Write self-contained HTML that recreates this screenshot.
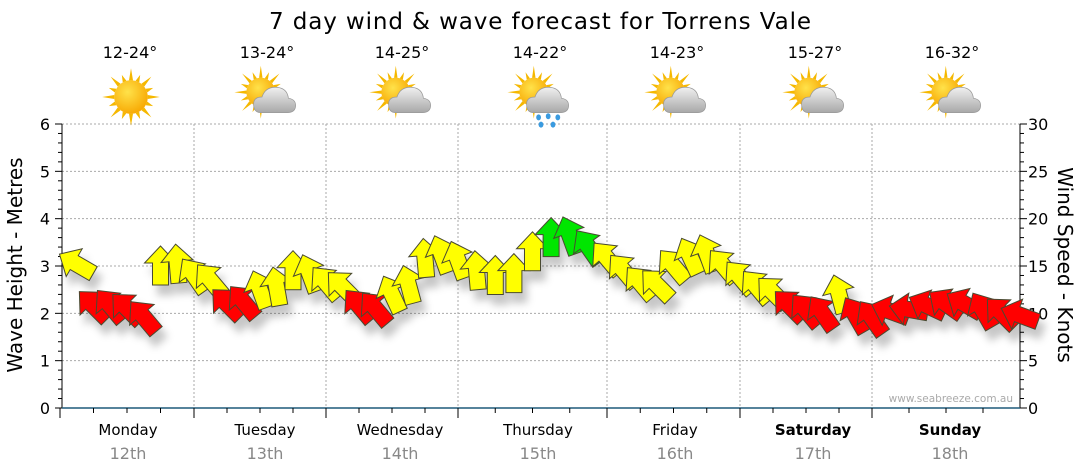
<!DOCTYPE html>
<html><head><meta charset="utf-8"><style>
body{margin:0;background:#fff;}
svg{display:block;font-family:"DejaVu Sans","Liberation Sans",sans-serif;}
</style></head><body>
<svg id="chart" width="1080" height="475" viewBox="0 0 1080 475" xmlns="http://www.w3.org/2000/svg">
<defs>
<filter id="sh" x="-50%" y="-50%" width="200%" height="200%"><feDropShadow dx="5" dy="10" stdDeviation="4" flood-color="#000" flood-opacity="0.22"/></filter>
<radialGradient id="sun" cx="0.4" cy="0.35" r="0.7"><stop offset="0" stop-color="#ffe24a"/><stop offset="1" stop-color="#f7a600"/></radialGradient>
<linearGradient id="cld" x1="0" y1="0" x2="0" y2="1"><stop offset="0" stop-color="#f0f0f0"/><stop offset="1" stop-color="#a8a8a8"/></linearGradient>
</defs>
<text x="540" y="29" text-anchor="middle" font-size="23" fill="#000" textLength="542">7 day wind &amp; wave forecast for Torrens Vale</text>
<g id="grid"></g>
<g id="axes"></g>
<g id="icons"></g>
<g id="arrows" filter="url(#sh)"></g>
<text transform="translate(22,265) rotate(-90)" text-anchor="middle" font-size="20" fill="#000">Wave Height - Metres</text>
<text transform="translate(1058,265) rotate(90)" text-anchor="middle" font-size="20" fill="#000">Wind Speed - Knots</text>
<text x="1013" y="402" text-anchor="end" font-size="10.5" fill="#aaa">www.seabreeze.com.au</text>
</svg>
<script>
const days = ["Monday","Tuesday","Wednesday","Thursday","Friday","Saturday","Sunday"];
const dates = ["12th","13th","14th","15th","16th","17th","18th"];
const temps = ["12-24°","13-24°","14-25°","14-22°","14-23°","15-27°","16-32°"];
const weather = ["sun","cloud","cloud","rain","cloud","cloud","cloud"];
const hours = [3,6,9,12,15,18,21,24,27,30,33,36,39,42,45,48,51,54,57,60,63,66,69,72,75,78,81,84,87,90,93,96,99,102,105,108,111,114,117,120,123,126,129,132,135,138,141,144,147,150,153,156,159,162,165,168];
const windKnots = [15.2,10.8,10.8,10.5,9.6,15.0,15.2,14.0,13.5,11.0,11.2,12.5,12.8,14.5,14.2,13.2,12.8,10.8,10.5,12.0,13.0,15.8,16.2,15.6,14.5,14.0,14.2,16.5,18.0,18.2,17.0,15.8,14.5,13.2,13.0,15.0,16.0,16.3,15.0,13.8,12.8,12.2,10.8,10.3,10.0,12.0,9.8,9.5,10.2,10.4,10.8,11.0,11.0,10.3,10.0,9.8];
const windDir = [-60,-45,-40,-45,-40,0,-5,-35,-40,-45,-40,-20,-10,0,-20,-40,-45,-40,-40,-25,-15,-5,-20,-20,-5,0,0,0,0,-20,-35,-40,-40,-40,-45,-40,-25,-20,-40,-40,-40,-45,-45,-40,-35,-15,-30,-35,-70,-80,-65,-55,-60,-30,-45,-70];
const windCat = ["Y","R","R","R","R","Y","Y","Y","Y","R","R","Y","Y","Y","Y","Y","Y","R","R","Y","Y","Y","Y","Y","Y","Y","Y","Y","G","G","G","Y","Y","Y","Y","Y","Y","Y","Y","Y","Y","Y","R","R","R","Y","R","R","R","R","R","R","R","R","R","R"];
const waveTicks = [0,1,2,3,4,5,6];
const knotTicks = [0,5,10,15,20,25,30];

const NS="http://www.w3.org/2000/svg";
const bounds=[60,194,326,458,607,740,872,1020];
const labelX=[128,265,400,538,675,813,950];
const X0=62, X1=1020, Y0=408, Y1=124;
const yM = m => Y0 - (m/6)*(Y0-Y1);
const yK = k => Y0 - (k/30)*(Y0-Y1);
const xT = t => {let d=Math.min(6,Math.floor(t/24)); if(t>=168)d=6; const f=(t-d*24)/24; return bounds[d]+f*(bounds[d+1]-bounds[d]);};
function mk(tag,attrs,parent,txt){const e=document.createElementNS(NS,tag);for(const k in attrs)e.setAttribute(k,attrs[k]);if(txt!=null)e.textContent=txt;parent.appendChild(e);return e;}
const grid=document.getElementById('grid'), axes=document.getElementById('axes'), icons=document.getElementById('icons'), arrows=document.getElementById('arrows');

waveTicks.forEach(v=>{
  if(v>0){const g=mk('line',{x1:X0,x2:X1,y1:yM(v),y2:yM(v),stroke:'#aaa','stroke-dasharray':'2,2'},grid);
  
  }
  const t=mk('text',{x:50,y:yM(v)+6,'text-anchor':'end','font-size':16,fill:'#000'},axes,String(v));
  
  
});
for(let i=0;i<=30;i++){const v=i*0.2;mk('line',{x1:X0-(i%5==0?7:4),x2:X0,y1:yM(v),y2:yM(v),stroke:'#000'},axes);}
knotTicks.forEach(v=>{
  const t=mk('text',{x:1028,y:yK(v)+6,'font-size':16,fill:'#000'},axes,String(v));
  
  
});
for(let i=0;i<=30;i++){mk('line',{x1:X1,x2:X1+(i%5==0?7:4),y1:yK(i),y2:yK(i),stroke:'#000'},axes);}
mk('line',{x1:X0,x2:X0,y1:Y1,y2:Y0,stroke:'#000'},axes);
mk('line',{x1:X1,x2:X1,y1:Y1,y2:Y0,stroke:'#000'},axes);
mk('line',{x1:X0,x2:X1,y1:Y0,y2:Y0,stroke:'#1f5a7a','stroke-width':1.5},axes);
for(let d=0;d<7;d++){
  for(let q=0;q<4;q++){const x=bounds[d]+q*(bounds[d+1]-bounds[d])/4;mk('line',{x1:x,x2:x,y1:Y0,y2:Y0+(q==0?10:5),stroke:'#000'},axes);}
  if(d>0){const g=mk('line',{x1:bounds[d],x2:bounds[d],y1:Y1,y2:Y0,stroke:'#aaa','stroke-dasharray':'2,2'},grid);
  
  }
  const bold=d>=5?'bold':'normal';
  const dl=mk('text',{x:labelX[d],y:435,'text-anchor':'middle','font-size':15,'font-weight':bold,fill:'#000'},axes,days[d]);
  
  
  const dt=mk('text',{x:labelX[d],y:459,'text-anchor':'middle','font-size':16,fill:'#888'},axes,dates[d]);
  
  
  const tt=mk('text',{x:labelX[d]+2,y:58,'text-anchor':'middle','font-size':16,fill:'#000'},icons,temps[d]);
  
  
  const g=mk('g',{transform:`translate(${labelX[d]+3},97) scale(1.2)`},icons);
  
  
  const cx=weather[d]=='sun'?0:-6, cy=weather[d]=='sun'?0:-4, r=weather[d]=='sun'?14:12;
  let rays='';for(let i=0;i<16;i++){const a=i*Math.PI/8,l=(i%2?r+6:r+10);rays+=`M${cx+Math.cos(a-0.12)*r},${cy+Math.sin(a-0.12)*r}L${cx+Math.cos(a)*l},${cy+Math.sin(a)*l}L${cx+Math.cos(a+0.12)*r},${cy+Math.sin(a+0.12)*r}Z`;}
  mk('path',{d:rays,fill:'#f5b800'},g);
  mk('circle',{cx:cx,cy:cy,r:r,fill:'url(#sun)'},g);
  if(weather[d]!='sun'){
    mk('path',{d:'M-6,13 Q-12,13 -12,6 Q-12,0 -5,0 Q-2,-9 8,-8 Q16,-7 17,1 Q23,2 23,7 Q23,13 16,13 Z',fill:'url(#cld)',stroke:'#999','stroke-width':0.6},g);
  }
  if(weather[d]=='rain'){
    [[-2,17],[6,16],[14,17],[0,23],[10,23]].forEach(p=>mk('ellipse',{cx:p[0],cy:p[1],rx:2,ry:2.5,fill:'#3a9be0'},g));
  }
}
const cols={Y:'#ffff00',R:'#ff0000',G:'#00e600'};
const shape='M0,-20 L16,-3 L8,-3 L8,19 L-8,19 L-8,-3 L-16,-3 Z';
hours.forEach((h,i)=>{
  const a=mk('path',{d:shape,fill:cols[windCat[i]],stroke:'#4a4a30','stroke-width':1,'stroke-linejoin':'miter',transform:`translate(${xT(h).toFixed(1)},${yK(windKnots[i]).toFixed(1)}) rotate(${windDir[i]})`},arrows);
  
  
});
</script>
</body></html>
